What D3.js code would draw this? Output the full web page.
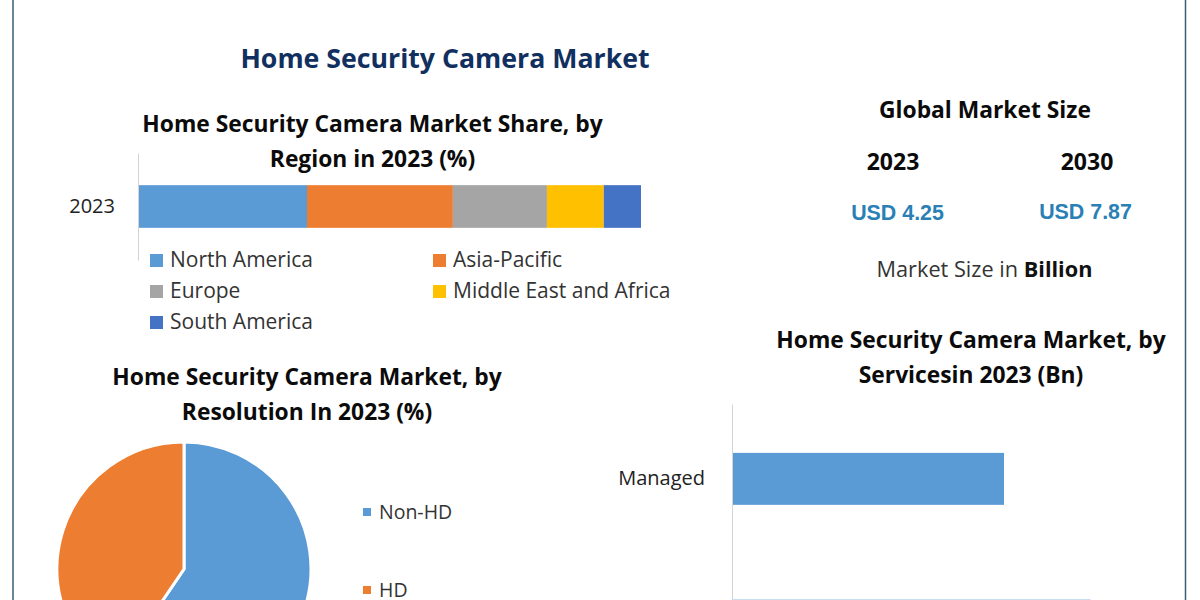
<!doctype html>
<html lang="en">
<head>
    <meta charset="UTF-8">
    <title>Home Security Camera Market</title>
    <script src="https://cdnjs.cloudflare.com/ajax/libs/d3/7.8.5/d3.min.js"></script>
    <style>
        html, body {
            margin: 0;
            padding: 0;
            background: #ffffff;
            overflow: hidden;
        }
        text {
            font-family: "Open Sans", "Noto Sans", sans-serif;
            fill: #1a1a1a;
        }
        .heading {
            font-size: 22.8px;
            font-weight: 700;
            text-anchor: middle;
            fill: #0b0b0b;
        }
        .legend {
            font-size: 21px;
            fill: #333;
        }
        .axis path, .axis line {
            stroke: #d4d4d4;
        }
        .axis text {
            font-family: "Open Sans", "Noto Sans", sans-serif;
            fill: #222;
        }
    </style>
</head>
<body>
<svg id="chart" width="1200" height="600"></svg>
<script>
    // stacked region bar
    const regions = ["North America", "Asia-Pacific", "Europe", "Middle East and Africa", "South America"];
    const regionShare = [33.6, 29.0, 18.7, 11.3, 7.4];
    const regionYear = ["2023"];
    const regionColors = ["#5b9bd5", "#ed7d31", "#a5a5a5", "#ffc000", "#4472c4"];

    // resolution pie
    const resolutions = ["Non-HD", "HD"];
    const resolutionShare = [59.5, 40.5];

    // services bars, second bar runs off the bottom of the picture
    // (its label is not visible, so only the first tick gets drawn)
    const services = ["Managed", "Unmanaged"];
    const serviceValues = [2.2, 2.9];

    // market size block
    const sizeYears = ["2023", "2030"];
    const sizeLabels = ["USD 4.25", "USD 7.87"];

    const svg = d3.select("#chart");

    // frame, only the side rules are visible in the crop
    svg.append("line").attr("x1", 13).attr("x2", 13).attr("y1", 0).attr("y2", 600)
        .attr("stroke", "#3a5f75").attr("stroke-width", 1.5);
    svg.append("line").attr("x1", 1185.5).attr("x2", 1185.5).attr("y1", 0).attr("y2", 600)
        .attr("stroke", "#3a5f75").attr("stroke-width", 1.5);

    svg.append("text").attr("x", 445).attr("y", 68)
        .attr("text-anchor", "middle")
        .style("font-size", "26.7px").style("font-weight", 700).style("fill", "#12305f")
        .text("Home Security Camera Market");

    function heading(x, y, lines) {
        lines.forEach((line, i) => {
            svg.append("text").attr("class", "heading")
                .attr("x", x).attr("y", y + i * 35).text(line);
        });
    }

    heading(372.5, 132, ["Home Security Camera Market Share, by", "Region in 2023 (%)"]);
    heading(307, 385, ["Home Security Camera Market, by", "Resolution In 2023 (%)"]);
    heading(971, 348, ["Home Security Camera Market, by", "Servicesin 2023 (Bn)"]);

    // stacked bar
    const regionX = d3.scaleLinear().domain([0, d3.sum(regionShare)]).range([138, 641]);
    const regionY = d3.scaleBand().domain(regionYear).range([153, 260]).padding(0.43);
    const stackStarts = d3.cumsum([0].concat(regionShare));

    svg.append("g").selectAll("rect")
        .data(regionShare)
        .enter().append("rect")
        .attr("x", (d, i) => regionX(stackStarts[i]))
        .attr("y", regionY("2023"))
        .attr("width", d => regionX(d) - regionX(0))
        .attr("height", regionY.bandwidth())
        .attr("fill", (d, i) => regionColors[i]);

    const regionAxis = svg.append("g").attr("class", "axis")
        .attr("transform", "translate(138,0)")
        .call(d3.axisLeft(regionY).tickSize(0).tickPadding(23));
    regionAxis.selectAll("text").style("font-size", "20px");

    // legend, two columns
    const legendX = [150, 433];
    const legendY = [260, 291, 322];
    regions.forEach((name, i) => {
        const col = i % 2;
        const row = Math.floor(i / 2);
        svg.append("rect")
            .attr("x", legendX[col]).attr("y", legendY[row] - 6)
            .attr("width", 13).attr("height", 13)
            .attr("fill", regionColors[i]);
        svg.append("text").attr("class", "legend")
            .attr("x", legendX[col] + 20).attr("y", legendY[row] + 7)
            .text(name);
    });

    // pie
    const pieGroup = svg.append("g").attr("transform", "translate(184,569)");
    const pie = d3.pie().sort(null);
    const arc = d3.arc().innerRadius(0).outerRadius(127);
    pieGroup.selectAll("path")
        .data(pie(resolutionShare))
        .enter().append("path")
        .attr("d", arc)
        .attr("fill", (d, i) => regionColors[i])
        .attr("stroke", "#fff")
        .attr("stroke-width", 3);

    const pieLegendY = [512, 590];
    resolutions.forEach((name, i) => {
        svg.append("rect")
            .attr("x", 363).attr("y", pieLegendY[i] - 4)
            .attr("width", 8).attr("height", 8)
            .attr("fill", regionColors[i]);
        svg.append("text")
            .attr("x", 379).attr("y", pieLegendY[i] + 7)
            .style("font-size", "19.5px").style("fill", "#333")
            .text(name);
    });

    // services bars
    const serviceX = d3.scaleLinear().domain([0, 2.2]).range([732, 1004]);
    const serviceY = d3.scaleBand().domain(services).range([404, 700.5])
        .paddingInner(0.646).paddingOuter(0.333);

    svg.append("g").selectAll("rect")
        .data(serviceValues)
        .enter().append("rect")
        .attr("x", serviceX(0))
        .attr("y", (d, i) => serviceY(services[i]))
        .attr("width", d => serviceX(d) - serviceX(0))
        .attr("height", serviceY.bandwidth())
        .attr("fill", regionColors[0]);

    const serviceAxis = svg.append("g").attr("class", "axis")
        .attr("transform", "translate(732,0)")
        .call(d3.axisLeft(serviceY).tickValues(services.slice(0, 1)).tickSize(0).tickPadding(27));
    serviceAxis.selectAll("text").style("font-size", "20px");

    // market size block
    svg.append("text").attr("class", "heading").attr("x", 985).attr("y", 118).text("Global Market Size");

    const yearX = d3.scalePoint().domain(sizeYears).range([893, 1087]);
    const usdX = d3.scalePoint().domain(sizeYears).range([897.5, 1085.5]);
    sizeYears.forEach((year, i) => {
        svg.append("text").attr("x", yearX(year)).attr("y", 170)
            .attr("text-anchor", "middle")
            .style("font-size", "23px").style("font-weight", 700).style("fill", "#0b0b0b")
            .text(year);
        svg.append("text").attr("x", usdX(year)).attr("y", 220 - i * 1.5)
            .attr("text-anchor", "middle")
            .style("font-family", "Liberation Sans, sans-serif")
            .style("font-size", "21.4px").style("font-weight", 700).style("fill", "#2a7fb5")
            .text(sizeLabels[i]);
    });

    const sizeNote = svg.append("text").attr("x", 984.5).attr("y", 277)
        .attr("text-anchor", "middle")
        .style("font-size", "21.7px").style("fill", "#333");
    sizeNote.append("tspan").text("Market Size in ");
    sizeNote.append("tspan").style("font-weight", 700).style("fill", "#111").text("Billion");
</script>
</body>
</html>
